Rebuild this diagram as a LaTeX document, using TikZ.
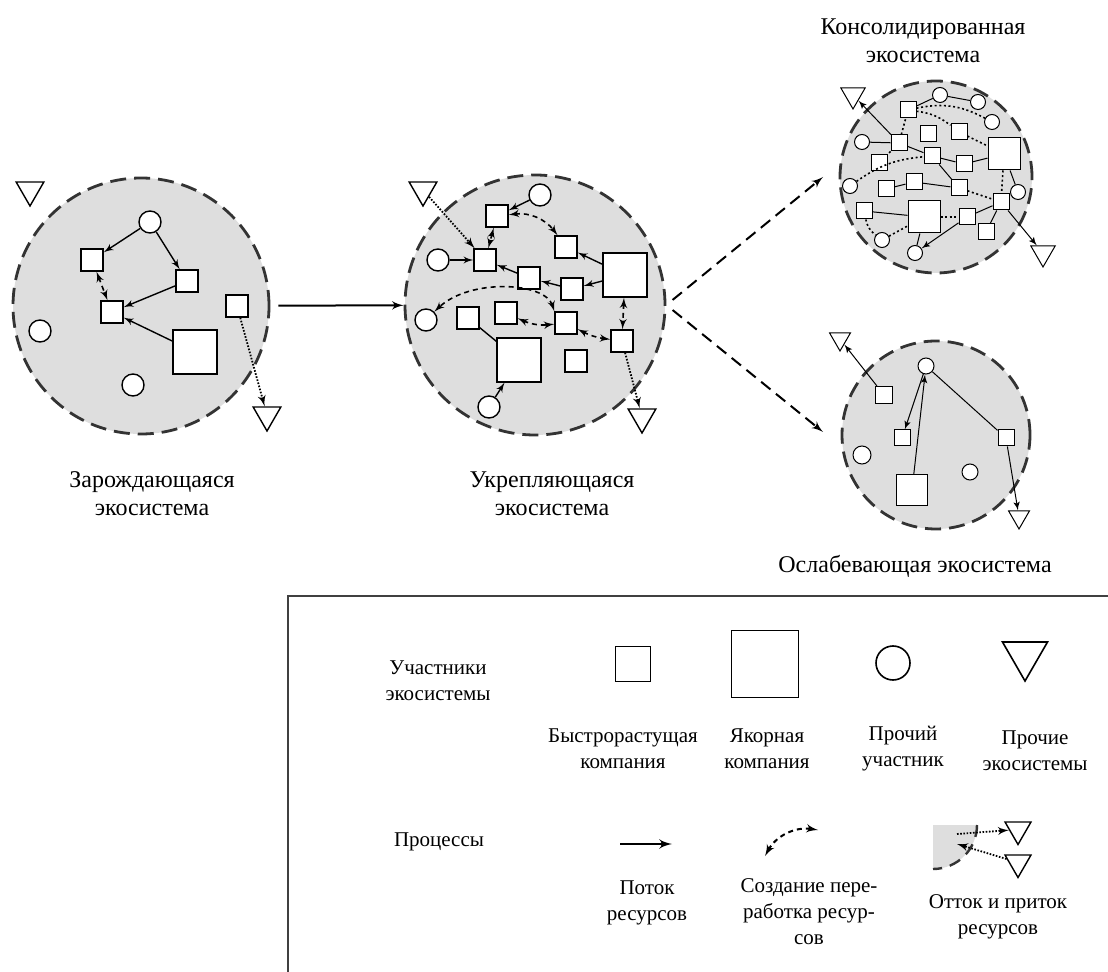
\documentclass[tikz,border=0pt]{standalone}
\usepackage{fontspec}
\setmainfont{Liberation Serif}
\usetikzlibrary{shapes.geometric, arrows, positioning}

\tikzset{
  eco/.style   = {draw=black!80, circle, fill=black!13, line width=1.4pt, dash pattern=on 8pt off 4pt, minimum size=#1, inner sep=0pt},
  fast/.style  = {draw, rectangle, fill=white, minimum size=#1, inner sep=0pt},
  fast/.default = 11pt,
  core/.style  = {draw, rectangle, fill=white, minimum size=#1, inner sep=0pt},
  core/.default = 22pt,
  part/.style  = {draw, circle, fill=white, minimum size=#1, inner sep=0pt},
  part/.default = 11pt,
  ext/.style   = {draw, regular polygon, regular polygon sides=3, shape border rotate=180, fill=white, minimum size=#1, inner sep=0pt},
  ext/.default = 16pt,
  flow/.style  = {draw, -latex'},
  make/.style  = {draw, latex'-latex', dash pattern=on 2.5pt off 2pt, line width=0.8pt},
  exch/.style  = {draw, -latex', dash pattern=on 0.8pt off 0.8pt, line width=0.9pt},
  tie/.style   = {draw, dash pattern=on 1pt off 1.3pt, line width=0.8pt},
  lbl/.style   = {align=center, font=\fontsize{12}{14}\selectfont},
  lgd/.style   = {align=center, font=\fontsize{10.5}{13}\selectfont}
}

\begin{document}
\begin{tikzpicture}[x=0.5pt, y=-0.5pt]
\useasboundingbox (0,0) rectangle (1108,972);

% nascent ecosystem
\begin{scope}[line width=0.7pt]
\node [eco=128pt] (nascent) at (141,306) {};
\node [ext]  (n-t1) at (30,190)  {};
\node [part] (n-p1) at (150,222) {};
\node [fast] (n-f1) at (92,260)  {};
\node [fast] (n-f2) at (187,281) {};
\node [fast] (n-f3) at (112,312) {};
\node [fast] (n-f4) at (237,306) {};
\node [core] (n-a1) at (195,352) {};
\node [part] (n-p2) at (40,331)  {};
\node [part] (n-p3) at (133,385) {};
\node [ext]  (n-t2) at (267,415) {};

\path [flow] (n-p1) -- (n-f1);
\path [flow] (n-p1) -- (n-f2);
\path [flow] (n-f2) -- (n-f3);
\path [flow] (n-a1) -- (n-f3);
\path [make] (n-f1) -- (n-f3);
\path [exch] (n-f4) -- (n-t2);
\end{scope}

% growing ecosystem
\begin{scope}[line width=0.7pt]
\node [eco=130pt] (growing) at (535,305) {};
\node [ext]  (g-t1)  at (423,190) {};
\node [part] (g-p1)  at (540,195) {};
\node [part] (g-p2)  at (438,260) {};
\node [part] (g-p3)  at (426,320) {};
\node [part] (g-p4)  at (489,407) {};
\node [fast] (g-f1)  at (497,216) {};
\node [fast] (g-f2)  at (485,260) {};
\node [fast] (g-f3)  at (566,247) {};
\node [fast] (g-f4)  at (529,278) {};
\node [fast] (g-f5)  at (572,289) {};
\node [core] (g-a1)  at (625,275) {};
\node [fast] (g-f6)  at (468,318) {};
\node [fast] (g-f7)  at (506,313) {};
\node [fast] (g-f8)  at (566,323) {};
\node [fast] (g-f9)  at (622,341) {};
\node [core] (g-a2)  at (519,360) {};
\node [fast] (g-f10) at (576,361) {};
\node [ext]  (g-t2)  at (642,417) {};

\path [flow] (g-p1) -- (g-f1);
\path [flow] (g-p2) -- (g-f2);
\path [flow] (g-f4) -- (g-f2);
\path [flow] (g-f5) -- (g-f4);
\path [flow] (g-a1) -- (g-f5);
\path [flow] (g-a1) -- (g-f3);
\path [flow] (g-p4) -- (g-a2);
\path [draw] (g-f6) -- (g-a2);
\path [make] (g-f1) -- (g-f2);
\path [make] (g-f1) to [bend left=30] (g-f3);
\path [make] (g-f8.north west) .. controls (545,282) and (470,278) .. (g-p3.north east);
\path [make] (g-f7) to [bend right=15] (g-f8);
\path [make] (g-f8) to [bend right=10] (g-f9);
\path [make] (g-a1) -- (g-f9);
\path [exch] (g-t1) -- (g-f2);
\path [exch] (g-f9) -- (g-t2);
\end{scope}

% consolidated ecosystem
\begin{scope}[line width=0.5pt]
\node [eco=96pt] (consol) at (936,177) {};
\node [ext=14pt]  (c-t1)  at (853,95)   {};
\node [part=7.5pt] (c-p1) at (940,95)   {};
\node [part=7.5pt] (c-p2) at (978,102)  {};
\node [part=7.5pt] (c-p3) at (992,122)  {};
\node [part=7.5pt] (c-p4) at (862,142)  {};
\node [part=7.5pt] (c-p5) at (850,186)  {};
\node [part=7.5pt] (c-p6) at (1018,192) {};
\node [part=7.5pt] (c-p7) at (882,240)  {};
\node [part=7.5pt] (c-p8) at (915,253)  {};
\node [fast=8pt] (c-f1)  at (908,110) {};
\node [fast=8pt] (c-f2)  at (928,134) {};
\node [fast=8pt] (c-f3)  at (959,132) {};
\node [fast=8pt] (c-f4)  at (899,143) {};
\node [fast=8pt] (c-f5)  at (879,163) {};
\node [fast=8pt] (c-f6)  at (932,156) {};
\node [fast=8pt] (c-f7)  at (964,164) {};
\node [fast=8pt] (c-f8)  at (914,182) {};
\node [fast=8pt] (c-f9)  at (886,189) {};
\node [fast=8pt] (c-f10) at (959,188) {};
\node [fast=8pt] (c-f11) at (1001,202) {};
\node [fast=8pt] (c-f12) at (864,211) {};
\node [fast=8pt] (c-f13) at (967,217) {};
\node [fast=8pt] (c-f14) at (986,232) {};
\node [core=16pt] (c-a1) at (1004,154) {};
\node [core=16pt] (c-a2) at (924,217)  {};
\node [ext=14pt]  (c-t2)  at (1043,253) {};

\path [flow] (c-f4) -- (c-t1);
\path [flow] (c-f11) -- (c-t2);
\path [flow] (c-f13) -- (c-p8);
\path [draw] (c-f1) -- (c-p1);
\path [draw] (c-p1) -- (c-p2);
\path [draw] (c-p4) -- (c-f4);
\path [draw] (c-f4) -- (c-f6);
\path [draw] (c-f6) -- (c-f7);
\path [draw] (c-f7) -- (c-a1);
\path [draw] (c-f6) -- (c-f10);
\path [draw] (c-f8) -- (c-f10);
\path [draw] (c-f9) -- (c-f8);
\path [draw] (c-a1) -- (c-p6);
\path [draw] (c-f12) -- (c-a2);
\path [draw] (c-f13) -- (c-f11);
\path [draw] (c-f11) -- (c-f14);
\path [draw] (c-a2) -- (c-p8);
\path [tie] (c-f1) to [bend left=20] (c-p3);
\path [tie] (c-f1) to [bend left=15] (c-f3);
\path [tie] (c-f3) -- (c-a1);
\path [tie] (c-f4) -- (c-f1);
\path [tie] (c-f4) -- (c-f5);
\path [tie] (c-p5) to [bend left=15] (c-f6);
\path [tie] (c-f10) -- (c-f11);
\path [tie] (c-a1) -- (c-f11);
\path [tie] (c-f12) to [bend right=20] (c-p7);
\path [tie] (c-p7) -- (c-a2);
\path [tie] (c-a2) -- (c-f13);
\end{scope}

% weakening ecosystem
\begin{scope}[line width=0.5pt]
\node [eco=94pt] (weak) at (936,435) {};
\node [ext=12pt]    (w-t1) at (840,339)  {};
\node [part=8pt]    (w-p1) at (926,366)  {};
\node [fast=8.5pt]  (w-f1) at (884,395)  {};
\node [fast=8pt]    (w-f2) at (902,438)  {};
\node [fast=8pt]    (w-f3) at (1006,438) {};
\node [core=15.5pt] (w-a1) at (912,490)  {};
\node [part=9pt]    (w-p2) at (862,455)  {};
\node [part=8pt]    (w-p3) at (970,472)  {};
\node [ext=12pt]    (w-t2) at (1019,517) {};

\path [flow] (w-f1) -- (w-t1);
\path [flow] (w-p1) -- (w-f2);
\path [flow] (w-a1) -- (w-p1);
\path [draw] (w-f3) -- (w-p1);
\path [flow] (w-f3) -- (w-t2);
\end{scope}

% stages
\coordinate (up-tip)   at (823,177);
\coordinate (down-tip) at (823,432);
\path [flow, line width=1pt, shorten <=4pt] (nascent) -- (growing);
\path [draw, -latex', line width=1pt, dash pattern=on 6pt off 3.5pt, shorten <=4pt] (growing.east) -- (up-tip);
\path [draw, -latex', line width=1pt, dash pattern=on 6pt off 3.5pt, shorten <=4pt] (growing.east) -- (down-tip);

\node [lbl] (l-nascent) at (152,494) {Зарождающаяся\\экосистема};
\node [lbl] (l-growing) at (552,494) {Укрепляющаяся\\экосистема};
\node [lbl] (l-consol)  at (923,41)  {Консолидированная\\экосистема};
\node [lbl] (l-weak)    at (915,566) {Ослабевающая экосистема};

% legend
\draw [black!75, line width=1.2pt] (1108,596) -| (288,972);
\node [lgd] (l-members) at (438,681) {Участники\\экосистемы};
\node [lgd] (l-proc)    at (439,842) {Процессы};

\begin{scope}[line width=0.8pt]
\node [fast=17.5pt] (k-fast) at (633,664)  {};
\node [core=33.5pt] (k-core) at (765,664)  {};
\node [part=17pt]   (k-part) at (893,663)  {};
\node [ext=26pt]    (k-ext)  at (1025,655) {};
\end{scope}
\node [lgd] (k-fast-l) at (623,749)  {Быстрорастущая\\компания};
\node [lgd] (k-core-l) at (767,749)  {Якорная\\компания};
\node [lgd] (k-part-l) at (903,749)  {Прочий\\участник};
\node [lgd] (k-ext-l)  at (1035,751) {Прочие\\экосистемы};

\coordinate (k-flow-a) at (620,844);
\coordinate (k-flow-b) at (672,844);
\path [flow, line width=1.2pt] (k-flow-a) -- (k-flow-b);

\coordinate (k-make-a) at (765,856);
\coordinate (k-make-b) at (818,830);
\path [make, line width=1pt] (k-make-a) to [bend left=35] (k-make-b);

\fill [black!13] (933,825) -- (977,825) arc [start angle=0, end angle=90, radius=44] -- cycle;
\draw [black!80, line width=1.2pt, dash pattern=on 6pt off 4pt] (977,825) arc [start angle=0, end angle=90, radius=44];
\node [ext=15pt, line width=0.7pt] (k-out) at (1018,829.5) {};
\node [ext=15pt, line width=0.7pt] (k-in)  at (1018,862.5) {};
\coordinate (k-src) at (957,834);
\coordinate (k-dst) at (957,844);
\path [exch] (k-src) -- (k-out);
\path [exch] (k-in) -- (k-dst);

\node [lgd] (k-flow-l) at (647,903) {Поток\\ресурсов};
\node [lgd] (k-make-l) at (809,912) {Создание пере-\\работка ресур-\\сов};
\node [lgd] (k-exch-l) at (998,917) {Отток и приток\\ресурсов};

\end{tikzpicture}
\end{document}
